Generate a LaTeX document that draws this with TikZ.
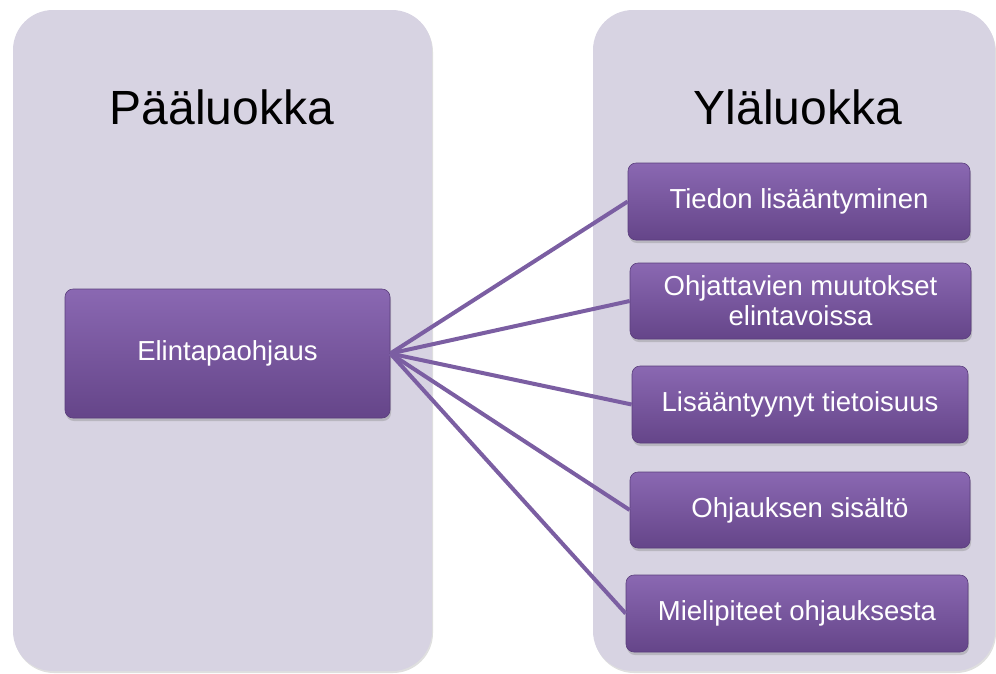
\documentclass[tikz,border=0pt]{standalone}
\usepackage{fontspec}
\setmainfont{Liberation Sans}
\usetikzlibrary{shadows,shadings}
\definecolor{panelc}{HTML}{D7D3E2}
\definecolor{boxtop}{HTML}{8A68B2}
\definecolor{boxbot}{HTML}{654589}
\definecolor{linec}{HTML}{7B5EA2}
\definecolor{boxedge}{HTML}{5A3E7C}
\tikzset{
  panel/.style={fill=panelc, draw=none, rounded corners=40pt,
    drop shadow={shadow xshift=1pt, shadow yshift=-2pt, opacity=0.25}},
  titletext/.style={font=\fontsize{48}{54}\selectfont, text=black, inner sep=0pt},
  pbox/.style={rectangle, rounded corners=8pt, draw=boxedge, line width=0.6pt,
    top color=boxtop, bottom color=boxbot, text=white,
    font=\fontsize{27.5}{30}\selectfont, align=center, inner sep=0pt,
    drop shadow={shadow xshift=1pt, shadow yshift=-3pt, opacity=0.35}},
  conn/.style={draw=linec, line width=4pt},
}
\begin{document}
\begin{tikzpicture}[x=1pt, y=-1pt]
\useasboundingbox (0,0) rectangle (996,673);
% panels
\path[panel] (13,10) rectangle (432,671);
\path[panel] (593,10) rectangle (995,671);
\node[titletext] (t1) at (222,107) {Pääluokka};
\node[titletext] (t2) at (798,107) {Yläluokka};
% boxes
\node[pbox, minimum width=325pt, minimum height=129pt] (m) at (227.5,353.5) {Elintapaohjaus};
\node[pbox, minimum width=342pt, minimum height=77pt] (b1) at (799,201.5) {Tiedon lisääntyminen};
\node[pbox, minimum width=341pt, minimum height=76pt] (b2) at (800.5,301) {Ohjattavien muutokset\\elintavoissa};
\node[pbox, minimum width=336pt, minimum height=77pt] (b3) at (800,404.5) {Lisääntyynyt tietoisuus};
\node[pbox, minimum width=340pt, minimum height=76pt] (b4) at (800,510) {Ohjauksen sisältö};
\node[pbox, minimum width=342pt, minimum height=77pt] (b5) at (797,613.5) {Mielipiteet ohjauksesta};
% connectors
\foreach \b in {b1,b2,b3,b4,b5}{
  \draw[conn] (m.east) -- (\b.west);
}
\end{tikzpicture}
\end{document}
